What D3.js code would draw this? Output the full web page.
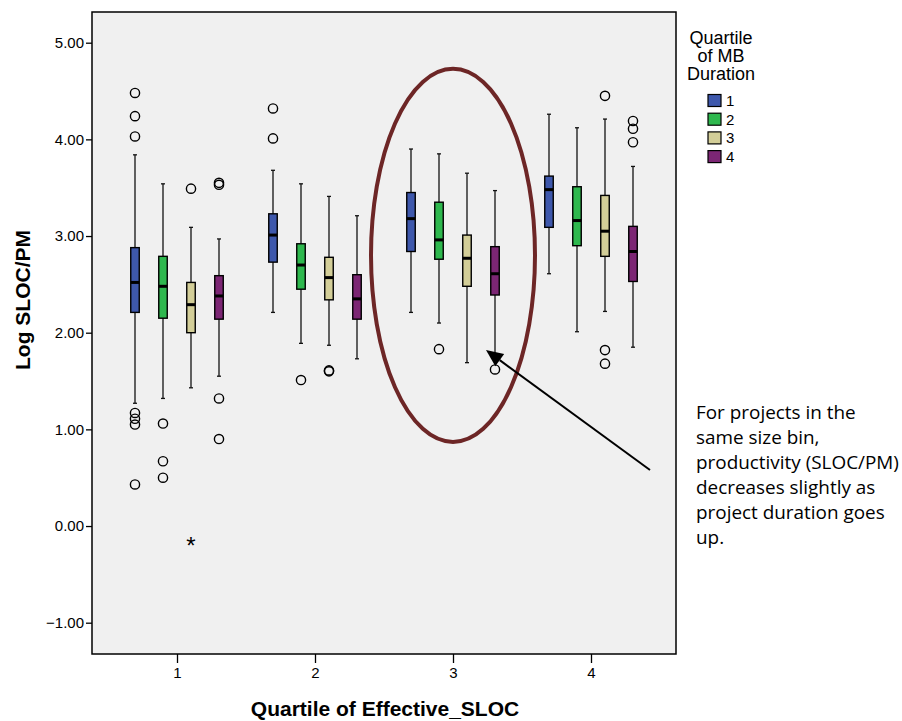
<!DOCTYPE html>
<html>
<head>
<meta charset="utf-8">
<title>Log SLOC/PM by Quartile of Effective_SLOC</title>
<script src="https://d3js.org/d3.v7.min.js"></script>
<style>
  body { margin: 0; background: #fff; }
  svg { display: block; font-family: "Liberation Sans", Arial, sans-serif; }
  .axis text { font-size: 15px; fill: #000; }
  .axis line { stroke: #000; stroke-width: 1.3; }
  .axis path { display: none; }
  .title { font-size: 21px; font-weight: bold; }
  .note { font-family: "Open Sans", sans-serif; fill: #000; }
</style>
</head>
<body>
<svg id="chart" width="902" height="721"></svg>
<script>
// categories on x and the grouping variable (legend)
var sizeQuartiles = ["1", "2", "3", "4"];
var durationQuartiles = ["1", "2", "3", "4"];
var durationColors = ["#3e58ac", "#2eb84e", "#d3ce98", "#7c2674"];
var yTicks = [-1, 0, 1, 2, 3, 4, 5];

// box statistics, rows = size quartile, cols = duration quartile
var whiskerLow  = [[1.27, 1.32, 1.43, 1.55], [2.21, 1.89, 1.87, 1.73], [2.21, 2.10, 1.69, 1.76], [2.61, 2.01, 2.22, 1.85]];
var q1          = [[2.21, 2.15, 2.00, 2.14], [2.73, 2.45, 2.34, 2.14], [2.84, 2.76, 2.48, 2.39], [3.09, 2.90, 2.79, 2.53]];
var median      = [[2.52, 2.48, 2.29, 2.38], [3.01, 2.70, 2.57, 2.35], [3.18, 2.96, 2.77, 2.61], [3.48, 3.16, 3.05, 2.84]];
var q3          = [[2.88, 2.79, 2.52, 2.59], [3.23, 2.92, 2.78, 2.60], [3.45, 3.35, 3.01, 2.89], [3.62, 3.51, 3.42, 3.10]];
var whiskerHigh = [[3.84, 3.54, 3.09, 2.97], [3.68, 3.54, 3.41, 3.21], [3.90, 3.85, 3.65, 3.47], [4.26, 4.12, 4.21, 3.72]];

// outliers: [size quartile index, duration index, value]
var outliers = [
  [0, 0, 4.48], [0, 0, 4.24], [0, 0, 4.03], [0, 0, 1.17], [0, 0, 1.11], [0, 0, 1.05], [0, 0, 0.43],
  [0, 1, 1.06], [0, 1, 0.67], [0, 1, 0.50],
  [0, 2, 3.49],
  [0, 3, 3.55], [0, 3, 3.53], [0, 3, 1.32], [0, 3, 0.90],
  [1, 0, 4.32], [1, 0, 4.01],
  [1, 1, 1.51],
  [1, 2, 1.61], [1, 2, 1.60],
  [2, 1, 1.83],
  [2, 3, 1.62],
  [3, 2, 4.45], [3, 2, 1.82], [3, 2, 1.68],
  [3, 3, 4.19], [3, 3, 4.11], [3, 3, 3.97]
];
var extremes = [[0, 2, -0.17]];

var noteLines = ["For projects in the", "same size bin,", "productivity (SLOC/PM)",
                 "decreases slightly as", "project duration goes", "up."];

// layout
var plot = {left: 92, right: 676, top: 12, bottom: 654};
var svg = d3.select("#chart");

var x = d3.scalePoint().domain(sizeQuartiles).range([177, 591]);
var sub = d3.scalePoint().domain(durationQuartiles).range([-42, 42]);
var y = d3.scaleLinear().domain([-1, 5]).range([622.7, 42.7]);
var boxW = 8.5, capW = 4;

// plot background
svg.append("rect")
  .attr("x", plot.left).attr("y", plot.top)
  .attr("width", plot.right - plot.left).attr("height", plot.bottom - plot.top)
  .attr("fill", "#f0f0f0");

// axes
svg.append("g").attr("class", "axis")
  .attr("transform", "translate(" + plot.left + ",0)")
  .call(d3.axisLeft(y).tickValues(yTicks).tickFormat(d3.format(".2f")).tickSize(6).tickPadding(2));

svg.append("g").attr("class", "axis")
  .attr("transform", "translate(0," + plot.bottom + ")")
  .call(d3.axisBottom(x).tickSize(9).tickPadding(4));

// boxes
var boxes = [];
sizeQuartiles.forEach(function(c, i) {
  durationQuartiles.forEach(function(d, j) {
    boxes.push({c: c, d: d, j: j, lo: whiskerLow[i][j], q1: q1[i][j], md: median[i][j], q3: q3[i][j], hi: whiskerHigh[i][j]});
  });
});

var g = svg.append("g").selectAll("g").data(boxes).join("g")
  .attr("transform", function(b) { return "translate(" + (x(b.c) + sub(b.d)) + ",0)"; });

g.append("line").attr("x1", 0).attr("x2", 0)
  .attr("y1", function(b) { return y(b.hi); }).attr("y2", function(b) { return y(b.lo); })
  .attr("stroke", "#111").attr("stroke-width", 1.3);
g.append("line").attr("x1", -capW / 2).attr("x2", capW / 2)
  .attr("y1", function(b) { return y(b.hi); }).attr("y2", function(b) { return y(b.hi); })
  .attr("stroke", "#111").attr("stroke-width", 1.3);
g.append("line").attr("x1", -capW / 2).attr("x2", capW / 2)
  .attr("y1", function(b) { return y(b.lo); }).attr("y2", function(b) { return y(b.lo); })
  .attr("stroke", "#111").attr("stroke-width", 1.3);
g.append("rect").attr("x", -boxW / 2).attr("width", boxW)
  .attr("y", function(b) { return y(b.q3); })
  .attr("height", function(b) { return y(b.q1) - y(b.q3); })
  .attr("fill", function(b) { return durationColors[b.j]; })
  .attr("stroke", "#000").attr("stroke-width", 1.4);
g.append("line").attr("x1", -boxW / 2).attr("x2", boxW / 2)
  .attr("y1", function(b) { return y(b.md); }).attr("y2", function(b) { return y(b.md); })
  .attr("stroke", "#000").attr("stroke-width", 3);

// outliers and extreme values
svg.append("g").selectAll("circle").data(outliers).join("circle")
  .attr("cx", function(o) { return x(sizeQuartiles[o[0]]) + sub(durationQuartiles[o[1]]); })
  .attr("cy", function(o) { return y(o[2]); })
  .attr("r", 4.6).attr("fill", "none").attr("stroke", "#000").attr("stroke-width", 1.4);

svg.append("g").selectAll("text").data(extremes).join("text")
  .attr("x", function(o) { return x(sizeQuartiles[o[0]]) + sub(durationQuartiles[o[1]]); })
  .attr("y", function(o) { return y(o[2]) + 12; })
  .attr("text-anchor", "middle").attr("font-size", 24).text("*");

// frame
svg.append("rect")
  .attr("x", plot.left).attr("y", plot.top)
  .attr("width", plot.right - plot.left).attr("height", plot.bottom - plot.top)
  .attr("fill", "none").attr("stroke", "#000").attr("stroke-width", 1.5);

// axis titles
svg.append("text").attr("class", "title")
  .attr("text-anchor", "middle")
  .attr("transform", "translate(30,300) rotate(-90)")
  .text("Log SLOC/PM");
svg.append("text").attr("class", "title")
  .attr("text-anchor", "middle").attr("x", 385).attr("y", 716)
  .text("Quartile of Effective_SLOC");

// legend
var legend = svg.append("g");
legend.selectAll("text.lt").data(["Quartile", "of MB", "Duration"]).join("text")
  .attr("class", "lt").attr("x", 721).attr("y", function(d, i) { return 43.7 + i * 18.3; })
  .attr("text-anchor", "middle").attr("font-size", 18).text(function(d) { return d; });
var items = legend.selectAll("g").data(durationQuartiles).join("g")
  .attr("transform", function(d, i) { return "translate(708," + (94.5 + i * 18.7) + ")"; });
items.append("rect").attr("width", 13).attr("height", 12)
  .attr("fill", function(d, i) { return durationColors[i]; })
  .attr("stroke", "#000").attr("stroke-width", 1.2);
items.append("text").attr("x", 18).attr("y", 11.5).attr("font-size", 15)
  .text(function(d) { return d; });

// annotation: ellipse around quartile 3 and arrow
svg.append("ellipse")
  .attr("cx", x("3")).attr("cy", y(2.80))
  .attr("rx", 82).attr("ry", y(0.87) - y(2.80))
  .attr("fill", "none").attr("stroke", "#6d2626").attr("stroke-width", 4);

var tip = [x("3") + 33, y(1.82)], tail = [650, 470];
var ang = Math.atan2(tail[1] - tip[1], tail[0] - tip[0]);
var hl = 17, hw = 7.5;
var base = [tip[0] + hl * Math.cos(ang), tip[1] + hl * Math.sin(ang)];
svg.append("line")
  .attr("x1", tail[0]).attr("y1", tail[1]).attr("x2", base[0]).attr("y2", base[1])
  .attr("stroke", "#000").attr("stroke-width", 2);
svg.append("path")
  .attr("d", "M" + tip + "L" + [base[0] - hw * Math.sin(ang), base[1] + hw * Math.cos(ang)] +
              "L" + [base[0] + hw * Math.sin(ang), base[1] - hw * Math.cos(ang)] + "Z")
  .attr("fill", "#000");

var note = svg.append("g").attr("class", "note");
note.selectAll("text").data(noteLines).join("text")
  .attr("x", 696).attr("y", function(d, i) { return 419 + i * 25; })
  .attr("font-size", 16).text(function(d) { return d; });
// fit the longest line to the width in the source
var longest = d3.max(note.selectAll("text").nodes(), function(n) { return n.getComputedTextLength(); });
note.selectAll("text").attr("font-size", 16 * 203 / longest);
</script>
</body>
</html>
